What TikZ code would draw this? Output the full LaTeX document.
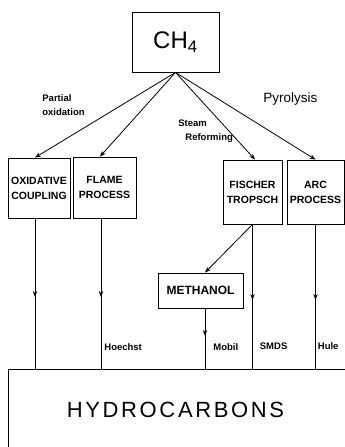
\documentclass[tikz,border=0pt]{standalone}
\usepackage{fontspec}
\setmainfont{Liberation Sans}
\usetikzlibrary{arrows.meta, decorations.markings}

\begin{document}
\begin{tikzpicture}[x=1pt, y=-1pt, line width=0.8pt,
		>={Stealth[length=6pt,width=4.5pt]},
		box/.style={draw, inner sep=0pt, align=center, font=\fontsize{10.5}{15}\selectfont\bfseries},
		lbl/.style={inner sep=0pt, anchor=west, align=left, font=\fontsize{9.5}{14}\selectfont\bfseries},
		flow/.style={postaction={decorate}, decoration={markings, mark=at position #1 with {\arrow{>}}}},
		flow/.default=0.55]
					\useasboundingbox (0,0) rectangle (345,447);
					\clip (0,0) rectangle (345,447);
					% feed and products
					\node[box, minimum width=87, minimum height=60, font=\fontsize{24}{24}\selectfont] (ch) at (175.5,42) {CH\textsubscript{4}};
					\node[minimum width=333, minimum height=80, inner sep=0pt, font=\fontsize{22}{22}\selectfont\addfontfeature{LetterSpace=12}] (hc) at (175.5,410) {HYDROCARBONS};
					\draw (hc.south west) |- (hc.north east) -- ++(20,0);
					% processes
					\node[box, minimum width=62, minimum height=60] (ox) at (39,188) {OXIDATIVE\\COUPLING};
					\node[box, minimum width=63, minimum height=61] (fl) at (104.5,187.5) {FLAME\\PROCESS};
					\node[box, minimum width=59, minimum height=64] (fi) at (252.5,192) {FISCHER\\TROPSCH};
					\node[box, minimum width=57, minimum height=64] (ar) at (315.5,192) {ARC\\PROCESS};
					\node[box, minimum width=85, minimum height=35, font=\fontsize{12}{12}\selectfont\bfseries] (me) at (200.5,290.5) {METHANOL};
					% route labels
					\node[lbl] (po) at (42,105) {Partial\\oxidation};
					\node[lbl] (sr) at (178,131) {Steam\\\hspace*{7pt}Reforming};
					\node[lbl, font=\fontsize{13.5}{14}\selectfont] (py) at (263,99) {Pyrolysis};
					% from methane
					\draw[->] (ch.south) -- ([xshift=-4pt]ox.north);
					\draw[->] (ch.south) -- ([xshift=-4.5pt]fl.north);
					\draw[->] (ch.south) -- ([xshift=2.5pt]fi.north);
					\draw[->] (ch.south) -- (ar.north);
					\draw[->] (fi.south) -- ([xshift=4.5pt]me.north);
					% to hydrocarbons
					\coordinate (o1) at ([xshift=-4pt]ox.south);
					\coordinate (f1) at ([xshift=-3.5pt]fl.south);
					\coordinate (m1) at ([xshift=4.5pt]me.south);
					\draw[flow=0.52] (o1) -- (o1 |- hc.north);
					\draw[flow=0.52] (f1) -- (f1 |- hc.north) node[lbl, pos=0.85, right=3pt] (ho) {Hoechst};
					\draw[flow=0.52] (fi.south) -- (fi.south |- hc.north) node[lbl, pos=0.84, right=7pt] (sm) {SMDS};
					\draw[flow=0.52] (ar.south) -- (ar.south |- hc.north) node[lbl, pos=0.84, right=2pt] (hu) {Hule};
					\draw[flow=0.45] (m1) -- (m1 |- hc.north) node[lbl, pos=0.63, right=8pt] (mo) {Mobil};
				\end{tikzpicture}
\end{document}
